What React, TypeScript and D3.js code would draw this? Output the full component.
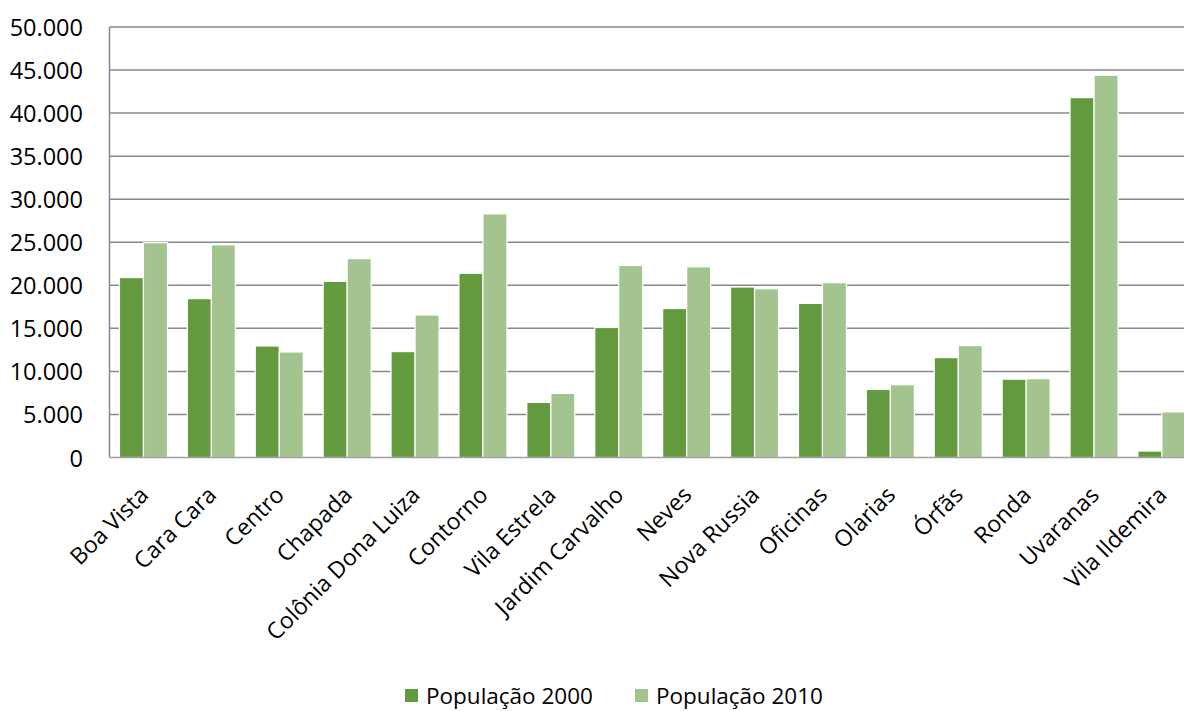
import React from "react";
import * as d3 from "d3";

const bairros = [
  "Boa Vista",
  "Cara Cara",
  "Centro",
  "Chapada",
  "Colônia Dona Luiza",
  "Contorno",
  "Vila Estrela",
  "Jardim Carvalho",
  "Neves",
  "Nova Russia",
  "Oficinas",
  "Olarias",
  "Órfãs",
  "Ronda",
  "Uvaranas",
  "Vila Ildemira",
];

const pop2000 = [
  20900, 18450, 12950, 20450, 12300, 21400, 6400, 15100, 17300, 19800, 17900,
  7900, 11600, 9100, 41800, 750,
];

const pop2010 = [
  24950, 24700, 12250, 23100, 16550, 28300, 7450, 22300, 22150, 19600, 20300,
  8450, 13000, 9150, 44400, 5300,
];

const seriesNames = ["População 2000", "População 2010"];
const seriesColors = ["#629a3d", "#a3c48f"];
const yTicks = [0, 5000, 10000, 15000, 20000, 25000, 30000, 35000, 40000, 45000, 50000];

const W = 1184;
const H = 711;
const FONT = "'Open Sans', sans-serif";

const ptBR = d3.formatLocale({
  decimal: ",",
  thousands: ".",
  grouping: [3],
  currency: ["R$", ""],
});
const fmt = ptBR.format(",d");

export default function App() {
  const left = 109.5;
  const top = 27;
  const bottom = 457.5;
  const step = 67.9;
  const right = left + step * bairros.length;

  const x0 = d3.scaleBand<string>().domain(bairros).range([left, right]).paddingInner(0).paddingOuter(0);
  const groupW = x0.step() * 0.707;
  const x1 = d3
    .scaleBand<string>()
    .domain(seriesNames)
    .range([0, groupW])
    .padding(0);
  const y = d3.scaleLinear().domain([0, 50000]).range([bottom, top]);

  const data = [pop2000, pop2010];

  return (
    <div style={{ position: "absolute", left: 0, top: 0 }}>
      <svg width={W} height={H} style={{ display: "block", background: "#fff" }}>
        {/* horizontal gridlines */}
        {yTicks.slice(1).map((t) => (
          <line
            key={t}
            x1={left}
            x2={right}
            y1={y(t)}
            y2={y(t)}
            stroke="#888888"
            strokeWidth={1.5}
          />
        ))}
        {/* value axis */}
        <line x1={left} x2={left} y1={top} y2={bottom} stroke="#888888" strokeWidth={1.5} />
        {yTicks.map((t) => (
          <text
            key={t}
            x={83}
            y={y(t)}
            textAnchor="end"
            dominantBaseline="central"
            fontFamily={FONT}
            fontSize={23.5}
            fill="#000"
          >
            {fmt(t)}
          </text>
        ))}
        {/* bars */}
        {bairros.map((b, i) => {
          const gx = (x0(b) as number) + (x0.step() - groupW) / 2;
          return (
            <g key={b}>
              {seriesNames.map((s, k) => (
                <rect
                  key={s}
                  x={gx + (x1(s) as number)}
                  y={y(data[k][i])}
                  width={x1.bandwidth()}
                  height={bottom - y(data[k][i])}
                  fill={seriesColors[k]}
                  stroke="#ffffff"
                  strokeWidth={1.2}
                />
              ))}
            </g>
          );
        })}
        {/* category axis */}
        <line x1={left} x2={right} y1={bottom} y2={bottom} stroke="#a0a0a0" strokeWidth={1.6} />
        {bairros.map((b) => {
          const cx = (x0(b) as number) + x0.step() / 2;
          const cy = 490;
          return (
            <text
              key={b}
              transform={`translate(${cx},${cy}) rotate(-45)`}
              textAnchor="end"
              dominantBaseline="central"
              fontFamily={FONT}
              fontSize={23}
              fill="#000"
            >
              {b}
            </text>
          );
        })}
        {/* legend */}
        {seriesNames.map((s, k) => {
          const lx = [405, 635][k];
          return (
            <g key={s}>
              <rect x={lx} y={689} width={13} height={13} fill={seriesColors[k]} />
              <text
                x={lx + 21}
                y={703.5}
                fontFamily={FONT}
                fontSize={22.5}
                fill="#000"
              >
                {s}
              </text>
            </g>
          );
        })}
      </svg>
    </div>
  );
}
